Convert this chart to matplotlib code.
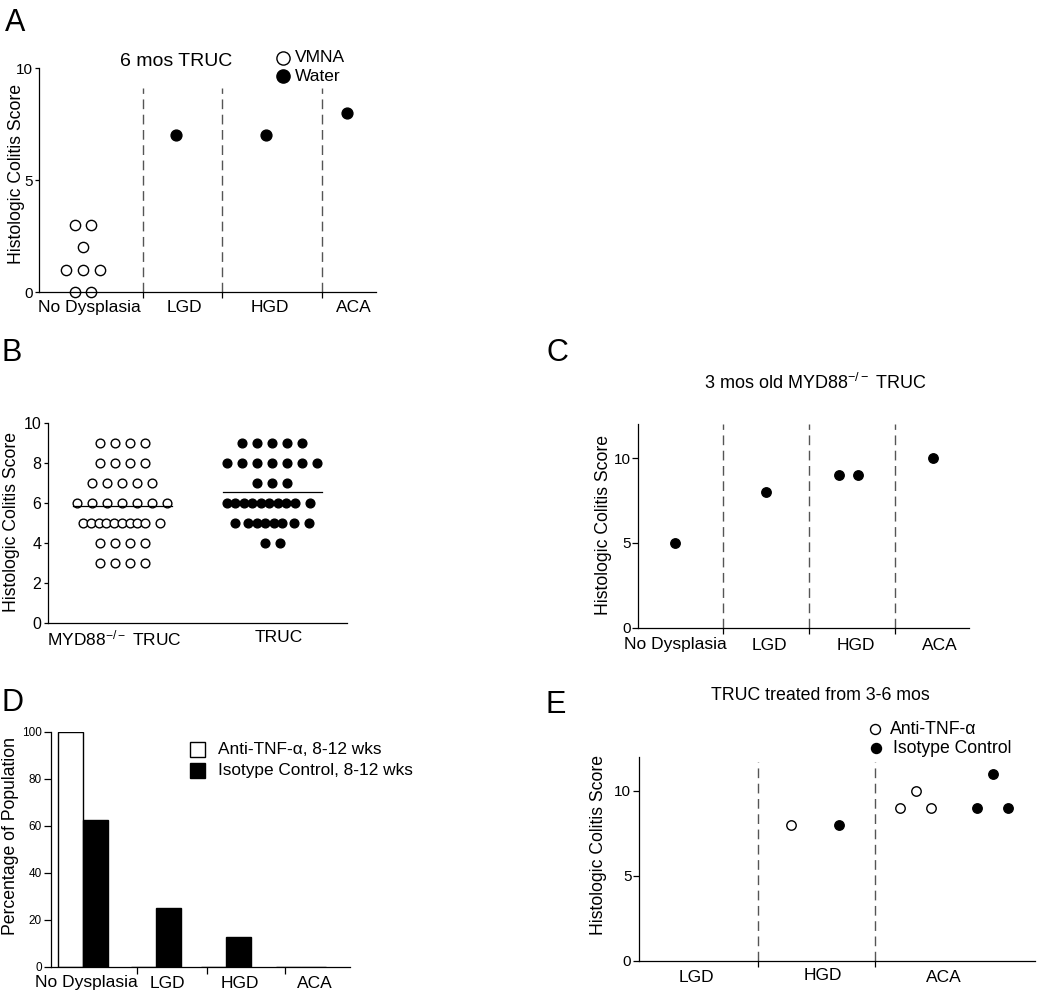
import numpy as np
import matplotlib
matplotlib.use("Agg")
import matplotlib.pyplot as plt
from matplotlib.lines import Line2D
from matplotlib.patches import Rectangle
from matplotlib import transforms

plt.rcParams['font.family'] = ['Liberation Sans', 'DejaVu Sans']
plt.rcParams['mathtext.fontset'] = 'custom'
plt.rcParams['mathtext.rm'] = 'Liberation Sans'
plt.rcParams['mathtext.it'] = 'Liberation Sans:italic'
plt.rcParams['mathtext.bf'] = 'Liberation Sans:bold'

W, H = 1050, 999

# ---------------- DATA ----------------
# Panel A: 6 mos TRUC
a_categories = ["No Dysplasia", "LGD", "HGD", "ACA"]
a_vmna_nodysplasia = [3, 3, 2, 1, 1, 1, 0, 0]
a_water_lgd = [7]
a_water_hgd = [7]
a_water_aca = [8]

# Panel B: histologic colitis score, MYD88-/- TRUC vs TRUC
b_groups = ["MYD88$^{-/-}$ TRUC", "TRUC"]
b_myd88 = [9]*4 + [8]*4 + [7]*5 + [6]*7 + [5]*10 + [4]*4 + [3]*4
b_truc = [9]*5 + [8]*7 + [7]*3 + [6]*10 + [5]*8 + [4]*2

# Panel C: 3 mos old MYD88-/- TRUC
c_categories = ["No Dysplasia", "LGD", "HGD", "ACA"]
c_nodysplasia = [5]
c_lgd = [8]
c_hgd = [9, 9]
c_aca = [10]

# Panel D: percentage of population
d_categories = ["No Dysplasia", "LGD", "HGD", "ACA"]
d_anti_tnf = [100, 0, 0, 0]
d_isotype = [62.5, 25, 12.5, 0]

# Panel E: TRUC treated from 3-6 mos
e_categories = ["LGD", "HGD", "ACA"]
e_anti_hgd = [8]
e_iso_hgd = [8]
e_anti_aca = [9, 10, 9]
e_iso_aca = [9, 11, 9]

# ---------------- LAYOUT HELPERS ----------------
fig = plt.figure(figsize=(W / 100, H / 100), dpi=100)

def add_ax(left, top, right, bottom):
    ax = fig.add_axes([left / W, 1 - bottom / H, (right - left) / W, (bottom - top) / H])
    ax.set_xlim(0, right - left)
    for s in ("top", "right"):
        ax.spines[s].set_visible(False)
    for s in ("left", "bottom"):
        ax.spines[s].set_linewidth(0.9)
    ax.patch.set_alpha(0)
    return ax

def ftext(x, y, s, **kw):
    fig.text(x / W, 1 - y / H, s, **kw)

def ylabel_text(x, y, s, size=12.7):
    ftext(x, y, s, rotation=90, ha="center", va="center", fontsize=size)

def xlabel_text(ax, x, y, s, size=12.5):
    tr = transforms.blended_transform_factory(ax.transData, fig.transFigure)
    ax.text(x, 1 - y / H, s, transform=tr, ha="center", va="center", fontsize=size, clip_on=False)

def fig_marker(x, y, filled, ms):
    fig.add_artist(Line2D([x / W], [1 - y / H], transform=fig.transFigure, marker="o",
                          markersize=ms, markerfacecolor="black" if filled else "white",
                          markeredgecolor="black", markeredgewidth=1.0, linestyle="none"))

def dashed(ax, x, top):
    ax.plot([x, x], [0, top], color="#555555", lw=1.0, ls=(0, (7, 4)), clip_on=False)

def yaxis_style(ax, size=11, length=3, pad=1.5):
    ax.tick_params(axis="y", labelsize=size, length=length, width=0.9, pad=pad, direction="out")

def div_ticks(ax, xs, length=4):
    ax.set_xticks(xs)
    ax.set_xticklabels([""] * len(xs))
    ax.tick_params(axis="x", length=length, width=0.9, direction="out")

open_kw = dict(marker="o", markerfacecolor="white", markeredgecolor="black", markeredgewidth=1.0, linestyle="none")
fill_kw = dict(marker="o", markerfacecolor="black", markeredgecolor="black", markeredgewidth=1.0, linestyle="none")

# ---------------- PANEL A ----------------
axA = add_ax(39, 68, 376, 292)
axA.set_ylim(0, 10)
axA.set_yticks([0, 5, 10])
yaxis_style(axA)
a_dividers = [104, 183, 283]
for d in a_dividers:
    dashed(axA, d, 9.1)
div_ticks(axA, a_dividers)
a_centers = [43.7, 137, 227, 308]
a_nd_offsets = [-8.2, 8.2, 0, -16.8, 0, 16.8, -8.2, 8.2]
axA.plot(np.array(a_nd_offsets) + a_centers[0], a_vmna_nodysplasia, markersize=7.4, clip_on=False, **open_kw)
for c, vals in zip(a_centers[1:], [a_water_lgd, a_water_hgd, a_water_aca]):
    axA.plot([c] * len(vals), vals, markersize=7.8, clip_on=False, **fill_kw)
for x, lab in zip([50, 145.5, 230.5, 315], a_categories):
    xlabel_text(axA, x, 308, lab)
ylabel_text(16.5, 174, "Histologic Colitis Score")
ftext(176, 61, "6 mos TRUC", ha="center", va="center", fontsize=14)
fig_marker(283, 58, False, 9.5)
fig_marker(283, 76, True, 9.5)
ftext(295, 58, "VMNA", ha="left", va="center", fontsize=12.5)
ftext(295, 76, "Water", ha="left", va="center", fontsize=12.5)
ftext(15, 23, "A", ha="center", va="center", fontsize=22)

# ---------------- PANEL B ----------------
axB = add_ax(47.7, 423.3, 346.7, 622.7)
axB.set_ylim(0, 10)
axB.set_yticks(range(0, 11, 2))
yaxis_style(axB, size=11.5, length=3)
axB.set_xticks([])
b_centers = [74.3, 224.3]
b_myd_offsets = {
    9: [-22.5, -7.5, 7.5, 22.5],
    8: [-22.5, -7.5, 7.5, 22.5],
    7: [-30, -15, 0, 15, 30],
    6: [-45, -30, -15, 0, 15, 30, 45],
    5: [-38.7 + 7.7 * i for i in range(9)] + [38],
    4: [-22.5, -7.5, 7.5, 22.5],
    3: [-22.5, -7.5, 7.5, 22.5],
}
b_truc_offsets = {
    9: [-30, -15, 0, 15, 30],
    8: [-45, -30, -15, 0, 15, 30, 45],
    7: [-15, 0, 15],
    6: [-45.3 + 8.5 * i for i in range(9)] + [38],
    5: [-37, -24, -15.5, -7, 1.5, 10, 22, 37],
    4: [-7.5, 7.5],
}

def swarm(values, offsets, center):
    xs, ys, used = [], [], {}
    for v in values:
        k = used.get(v, 0)
        xs.append(center + offsets[v][k])
        ys.append(v)
        used[v] = k + 1
    return xs, ys

xs, ys = swarm(b_myd88, b_myd_offsets, b_centers[0])
axB.plot(xs, ys, markersize=6.3, **open_kw)
xs, ys = swarm(b_truc, b_truc_offsets, b_centers[1])
axB.plot(xs, ys, markersize=6.3, **fill_kw)
for c, vals in zip(b_centers, [b_myd88, b_truc]):
    axB.plot([c - 49.5, c + 49.5], [np.mean(vals)] * 2, color="black", lw=0.9)
for x, lab in zip([66.8, 231], b_groups):
    xlabel_text(axB, x, 638, lab)
ylabel_text(12, 522, "Histologic Colitis Score")
ftext(12, 353, "B", ha="center", va="center", fontsize=22)

# ---------------- PANEL C ----------------
axC = add_ax(638.3, 424.3, 969, 627.7)
axC.set_ylim(0, 12)
axC.set_yticks([0, 5, 10])
yaxis_style(axC, size=11, length=4)
c_dividers = [84.4, 170.7, 257]
for d in c_dividers:
    dashed(axC, d, 12)
div_ticks(axC, c_dividers)
c_positions = [[36.7], [127.7], [201, 219.7], [294.7]]
for pos, vals in zip(c_positions, [c_nodysplasia, c_lgd, c_hgd, c_aca]):
    axC.plot(pos, vals, markersize=6.8, **fill_kw)
for x, lab in zip([36.7, 130.7, 217.7, 301.7], c_categories):
    xlabel_text(axC, x, 645, lab)
ylabel_text(603.5, 525, "Histologic Colitis Score")
ftext(815, 383, "3 mos old MYD88$^{-/-}$ TRUC", ha="center", va="center", fontsize=13)
ftext(557, 353, "C", ha="center", va="center", fontsize=22)

# ---------------- PANEL D ----------------
axD = add_ax(51, 731.7, 350, 966.7)
axD.set_ylim(0, 100)
axD.set_yticks(range(0, 101, 20))
yaxis_style(axD, size=8.5, length=5, pad=1.5)
d_centers = np.array([32.3, 104.5, 174.8, 250])
bw = 25
axD.bar(d_centers - bw / 2, d_anti_tnf, width=bw, color="white", edgecolor="black", linewidth=1.0)
axD.bar(d_centers + bw / 2, d_isotype, width=bw, color="black", edgecolor="black", linewidth=1.0)
div_ticks(axD, [85.7, 155.7, 234], length=5)
for x, lab in zip([35, 116.7, 189, 264], d_categories):
    xlabel_text(axD, x, 983, lab)
ylabel_text(10.5, 836, "Percentage of Population")
fig.add_artist(Rectangle((190 / W, 1 - 757.3 / H), 15 / W, 15.6 / H, transform=fig.transFigure,
                         facecolor="white", edgecolor="black", linewidth=1.0))
fig.add_artist(Rectangle((190 / W, 1 - 778.3 / H), 15 / W, 15.6 / H, transform=fig.transFigure,
                         facecolor="black", edgecolor="black", linewidth=1.0))
ftext(218, 749.5, "Anti-TNF-α, 8-12 wks", ha="left", va="center", fontsize=12.4)
ftext(218, 770.5, "Isotype Control, 8-12 wks", ha="left", va="center", fontsize=12.4)
ftext(12, 703, "D", ha="center", va="center", fontsize=22)

# ---------------- PANEL E ----------------
axE = add_ax(639, 756.7, 1035, 961)
axE.set_ylim(0, 12)
axE.set_yticks([0, 5, 10])
yaxis_style(axE, size=11, length=4)
e_dividers = [118.7, 235.7]
for d in e_dividers:
    dashed(axE, d, 11.7)
div_ticks(axE, e_dividers)
axE.plot([152], e_anti_hgd, markersize=6.8, **open_kw)
axE.plot([199.7], e_iso_hgd, markersize=6.8, **fill_kw)
axE.plot([260.7, 277.3, 292.3], e_anti_aca, markersize=6.8, **open_kw)
axE.plot([338, 354.3, 369.3], e_iso_aca, markersize=6.8, clip_on=False, **fill_kw)
for x, y, lab in zip([57, 183.7, 305.3], [977, 975, 977], e_categories):
    xlabel_text(axE, x, y, lab)
ylabel_text(598.7, 845, "Histologic Colitis Score")
ftext(820, 695, "TRUC treated from 3-6 mos", ha="center", va="center", fontsize=12.8)
fig_marker(875, 729.3, False, 7.2)
fig_marker(876, 748.3, True, 7.2)
ftext(890, 729.3, "Anti-TNF-α", ha="left", va="center", fontsize=12.7)
ftext(892.7, 748.3, "Isotype Control", ha="left", va="center", fontsize=12.7)
ftext(556, 705, "E", ha="center", va="center", fontsize=22)

fig.savefig("out.png", dpi=100)
